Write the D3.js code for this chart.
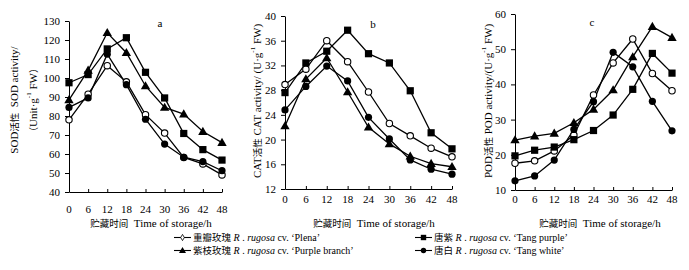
<!DOCTYPE html>
<html><head><meta charset="utf-8">
<script src="https://cdn.jsdelivr.net/npm/d3@7"></script>
<style>
body{margin:0;background:#fff;}
text{font-family:"Liberation Serif","Times New Roman","Noto Sans CJK SC",serif;fill:#000;}
</style></head>
<body><svg id="c" width="689" height="270"></svg>
<script>
const hours = [0, 6, 12, 18, 24, 30, 36, 42, 48];
const seriesNames = ["Plena", "Tang purple", "Purple branch", "Tang white"];
const seriesCN = ["重瓣玫瑰", "唐紫", "紫枝玫瑰", "唐白"];
// SOD (panel a)
const sodPlena  = [78, 91.5, 106.5, 98, 80.7, 71, 58.2, 54.8, 49];
const sodPurple = [97.5, 101.8, 115.3, 121.2, 103, 89.5, 70.8, 62.3, 56.8];
const sodBranch = [88.5, 104, 123.8, 113.3, 95.8, 84.5, 81, 71.8, 66];
const sodWhite  = [84.5, 89.5, 112.5, 96.5, 78.3, 65.2, 58.3, 56, 51.2];
// CAT (panel b)
const catPlena  = [28.9, 31.4, 36, 32.6, 27.7, 22.6, 20.6, 18.6, 17.2];
const catPurple = [27.6, 32.4, 34.3, 37.7, 33.9, 32.4, 27.9, 21.1, 18.5];
const catBranch = [22.2, 29.8, 33.2, 27.7, 22.0, 19.3, 17.3, 16.1, 15.6];
const catWhite  = [24.8, 28.6, 31.9, 29.5, 23.6, 20.1, 16.7, 15.2, 14.4];
// POD (panel c)
const podPlena  = [17.6, 18.3, 21.1, 25.6, 37, 46.1, 52.9, 43.1, 38.2];
const podPurple = [19.7, 21.3, 22.2, 24.3, 26.9, 31.3, 38.6, 48.8, 43.2];
const podBranch = [24.2, 25.3, 26.1, 29.1, 32.9, 38.4, 47.8, 56.4, 53.3];
const podWhite  = [12.6, 14, 18.5, 27.2, 35.1, 49.1, 45, 35.2, 26.8];
const yTicksA = [40, 50, 60, 70, 80, 90, 100, 110, 120, 130];
const yTicksB = [12, 16, 20, 24, 28, 32, 36, 40];
const yTicksC = [10, 20, 30, 40, 50, 60];

const markers = ["openCircle", "square", "triangle", "circle"];
const legendMarkers = ["openDiamond", "square", "triangle", "circle"];

const svg = d3.select("#c");

function drawMarker(g, type, x, y, k) {
  k = k || 1;
  if (type === "openCircle") {
    g.append("circle").attr("cx", x).attr("cy", y).attr("r", 3.2 * k)
      .attr("fill", "#fff").attr("stroke", "#000").attr("stroke-width", 1.1);
  } else if (type === "circle") {
    g.append("circle").attr("cx", x).attr("cy", y).attr("r", 3.6 * k).attr("fill", "#000");
  } else if (type === "square") {
    const s = 3.6 * k;
    g.append("rect").attr("x", x - s).attr("y", y - s).attr("width", 2 * s).attr("height", 2 * s).attr("fill", "#000");
  } else if (type === "triangle") {
    g.append("path").attr("d", d3.symbol().type(d3.symbolTriangle).size(38 * k * k)()).attr("transform", `translate(${x},${y + 0.6 * k})`).attr("fill", "#000");
  } else if (type === "openDiamond") {
    g.append("path").attr("d", d3.symbol().type(d3.symbolDiamond).size(20 * k * k)()).attr("transform", `translate(${x},${y})`)
      .attr("fill", "#fff").attr("stroke", "#000").attr("stroke-width", 0.8);
  }
}

const panels = [
  { series: [sodPlena, sodPurple, sodBranch, sodWhite], domain: [40, 130], ticks: yTicksA,
    x0: 69, x1: 222, yTop: 21, yBot: 192, letter: "a", lx: 160, ly: 27, tickLabelY: 213, titleX: 151 },
  { series: [catPlena, catPurple, catBranch, catWhite], domain: [12, 40], ticks: yTicksB,
    x0: 285, x1: 452, yTop: 16, yBot: 189, letter: "b", lx: 373, ly: 28, tickLabelY: 203, titleX: 374 },
  { series: [podPlena, podPurple, podBranch, podWhite], domain: [10, 60], ticks: yTicksC,
    x0: 515, x1: 672, yTop: 14, yBot: 190, letter: "c", lx: 592, ly: 26, tickLabelY: 203, titleX: 600 }
];

panels.forEach((p, pi) => {
  const x = d3.scaleLinear().domain([0, 48]).range([p.x0, p.x1]);
  const y = d3.scaleLinear().domain(p.domain).range([p.yBot, p.yTop]);
  const g = svg.append("g");

  const ya = g.append("g").attr("transform", `translate(${p.x0},0)`)
    .call(d3.axisLeft(y).tickValues(p.ticks).tickSize(4).tickPadding(5).tickSizeOuter(0));
  ya.select(".domain").attr("stroke", "#000").attr("stroke-width", 1);
  ya.selectAll(".tick line").attr("stroke", "#000");
  ya.selectAll("text").attr("font-size", 11).attr("font-family", "Liberation Serif");

  const xa = g.append("g").attr("transform", `translate(0,${p.yBot})`)
    .call(d3.axisBottom(x).tickValues(hours).tickSize(-3).tickSizeOuter(0).tickFormat(""));
  xa.select(".domain").attr("stroke", "#000").attr("stroke-width", 1);
  xa.selectAll(".tick line").attr("stroke", "#000");
  g.selectAll(".xl").data(hours).enter().append("text")
    .attr("x", d => x(d)).attr("y", p.tickLabelY).attr("text-anchor", "middle")
    .attr("font-size", 11).text(d => d);

  const xt = g.append("text").attr("x", p.titleX).attr("y", 227).attr("text-anchor", "middle").attr("font-size", 11);
  xt.append("tspan").attr("font-family", "Noto Sans CJK SC").attr("font-size", 9.5).text("贮藏时间");
  xt.append("tspan").text("\u00a0\u00a0Time of storage/h");

  g.append("text").attr("x", p.lx).attr("y", p.ly).attr("text-anchor", "middle").attr("font-size", 11).text(p.letter);

  const line = d3.line().x((d, i) => x(hours[i])).y(d => y(d));
  p.series.forEach((s) => {
    g.append("path").datum(s).attr("d", line).attr("fill", "none").attr("stroke", "#000").attr("stroke-width", 1.3);
  });
  p.series.forEach((s, si) => {
    s.forEach((v, i) => drawMarker(g, markers[si], x(hours[i]), y(v)));
  });
});

function yTitle(x, cy, parts) {
  const t = svg.append("text").attr("transform", `translate(${x},${cy}) rotate(-90)`)
    .attr("text-anchor", "middle").attr("dominant-baseline", "central").attr("font-size", 11);
  parts.forEach(pt => {
    const ts = t.append("tspan").text(pt.t);
    if (pt.cn) ts.attr("font-family", "Noto Sans CJK SC").attr("font-size", 9.5);
    if (pt.sup) ts.attr("font-size", 7).attr("dy", -4);
    if (pt.down) ts.attr("dy", 4);
  });
}
yTitle(14, 100, [{t: "SOD"}, {t: "活性", cn: true}, {t: "\u00a0\u00a0SOD activity/"}]);
yTitle(33, 100, [{t: "（", cn: true}, {t: "Unit·g"}, {t: "-1", sup: true}, {t: "\u00a0FW", down: true}, {t: "）", cn: true}]);
yTitle(257, 101, [{t: "CAT"}, {t: "活性", cn: true}, {t: "\u00a0CAT activity/ (U·g"}, {t: "-1", sup: true}, {t: "\u00a0FW)", down: true}]);
yTitle(488, 101, [{t: "POD"}, {t: "活性", cn: true}, {t: "\u00a0POD activity/(U·g"}, {t: "-1", sup: true}, {t: "\u00a0FW)", down: true}]);

const legendPos = [[174, 241], [415, 241], [174, 254], [415, 254]];
seriesNames.forEach((name, i) => {
  const [lx, ly] = legendPos[i];
  const g = svg.append("g");
  g.append("line").attr("x1", lx).attr("x2", lx + 17).attr("y1", ly - 3.5).attr("y2", ly - 3.5)
    .attr("stroke", "#000").attr("stroke-width", 1.1);
  drawMarker(g, legendMarkers[i], lx + 8.5, ly - 3.5, 0.75);
  const t = g.append("text").attr("x", lx + 19).attr("y", ly).attr("font-size", 10);
  t.append("tspan").attr("font-family", "Noto Sans CJK SC").attr("font-size", 9.5).text(seriesCN[i]);
  t.append("tspan").attr("font-style", "italic").text(" R");
  t.append("tspan").text(" . ");
  t.append("tspan").attr("font-style", "italic").text("rugosa");
  t.append("tspan").text(" cv. \u2018" + name + "\u2019");
});
</script></body></html>
